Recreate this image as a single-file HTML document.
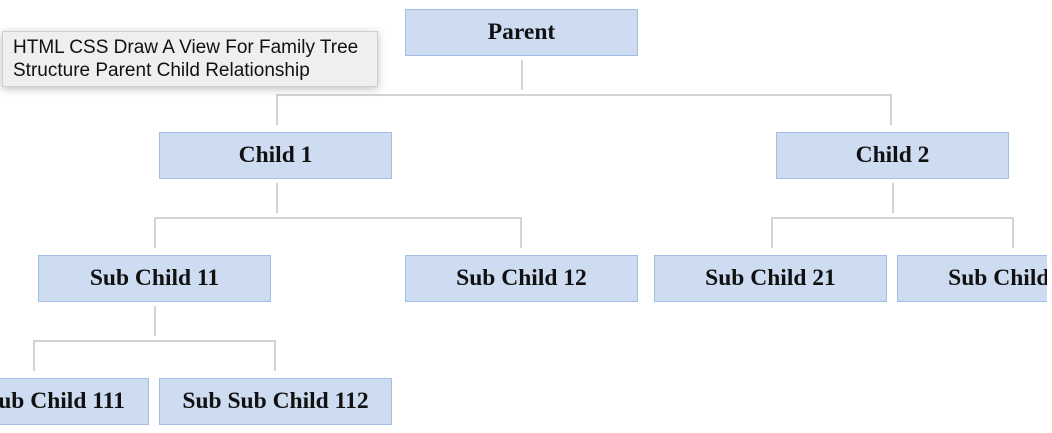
<!DOCTYPE html>
<html><head><style>
body{margin:0;width:1052px;height:433px;background:#fff;position:relative;overflow:hidden}
#c{position:absolute;left:0;top:0;width:1047px;height:433px;overflow:hidden}
.b{position:absolute;width:231px;height:45px;background:#cddcf1;border:1px solid #a3bfe6;font:bold 23.5px "Liberation Serif",serif;color:#111;text-align:center;line-height:45px;white-space:nowrap}
.l{position:absolute;background:#d4d4d4}
.tip{position:absolute;left:2px;top:31px;width:376px;height:56px;background:#efefef;border:1px solid #cfcfcf;box-shadow:0 2px 8px rgba(0,0,0,.25);font:19px "Liberation Sans",sans-serif;color:#111;padding:0 0 0 10px;box-sizing:border-box;line-height:23px;padding-top:4px;white-space:nowrap}
</style></head><body><div id="c">
<div class="b" style="left:405px;top:9px">Parent</div>
<div class="l" style="left:521px;top:60px;width:2px;height:30px"></div>
<div class="l" style="left:276px;top:94px;width:616px;height:2px"></div>
<div class="l" style="left:276px;top:94px;width:2px;height:31px"></div>
<div class="l" style="left:890px;top:94px;width:2px;height:31px"></div>
<div class="b" style="left:159px;top:132px">Child 1</div>
<div class="b" style="left:776px;top:132px">Child 2</div>
<div class="l" style="left:276px;top:183px;width:2px;height:30px"></div>
<div class="l" style="left:154px;top:217px;width:368px;height:2px"></div>
<div class="l" style="left:154px;top:217px;width:2px;height:31px"></div>
<div class="l" style="left:520px;top:217px;width:2px;height:31px"></div>
<div class="l" style="left:892px;top:183px;width:2px;height:30px"></div>
<div class="l" style="left:771px;top:217px;width:243px;height:2px"></div>
<div class="l" style="left:771px;top:217px;width:2px;height:31px"></div>
<div class="l" style="left:1012px;top:217px;width:2px;height:31px"></div>
<div class="b" style="left:38px;top:255px">Sub Child 11</div>
<div class="b" style="left:405px;top:255px">Sub Child 12</div>
<div class="b" style="left:654px;top:255px">Sub Child 21</div>
<div class="b" style="left:897px;top:255px">Sub Child 22</div>
<div class="l" style="left:154px;top:306px;width:2px;height:30px"></div>
<div class="l" style="left:33px;top:340px;width:243px;height:2px"></div>
<div class="l" style="left:33px;top:340px;width:2px;height:31px"></div>
<div class="l" style="left:274px;top:340px;width:2px;height:31px"></div>
<div class="b" style="left:-84px;top:378px">Sub Sub Child 111</div>
<div class="b" style="left:159px;top:378px">Sub Sub Child 112</div>
<div class="tip">HTML CSS Draw A View For Family Tree<br>Structure Parent Child Relationship</div>
</div></body></html>
